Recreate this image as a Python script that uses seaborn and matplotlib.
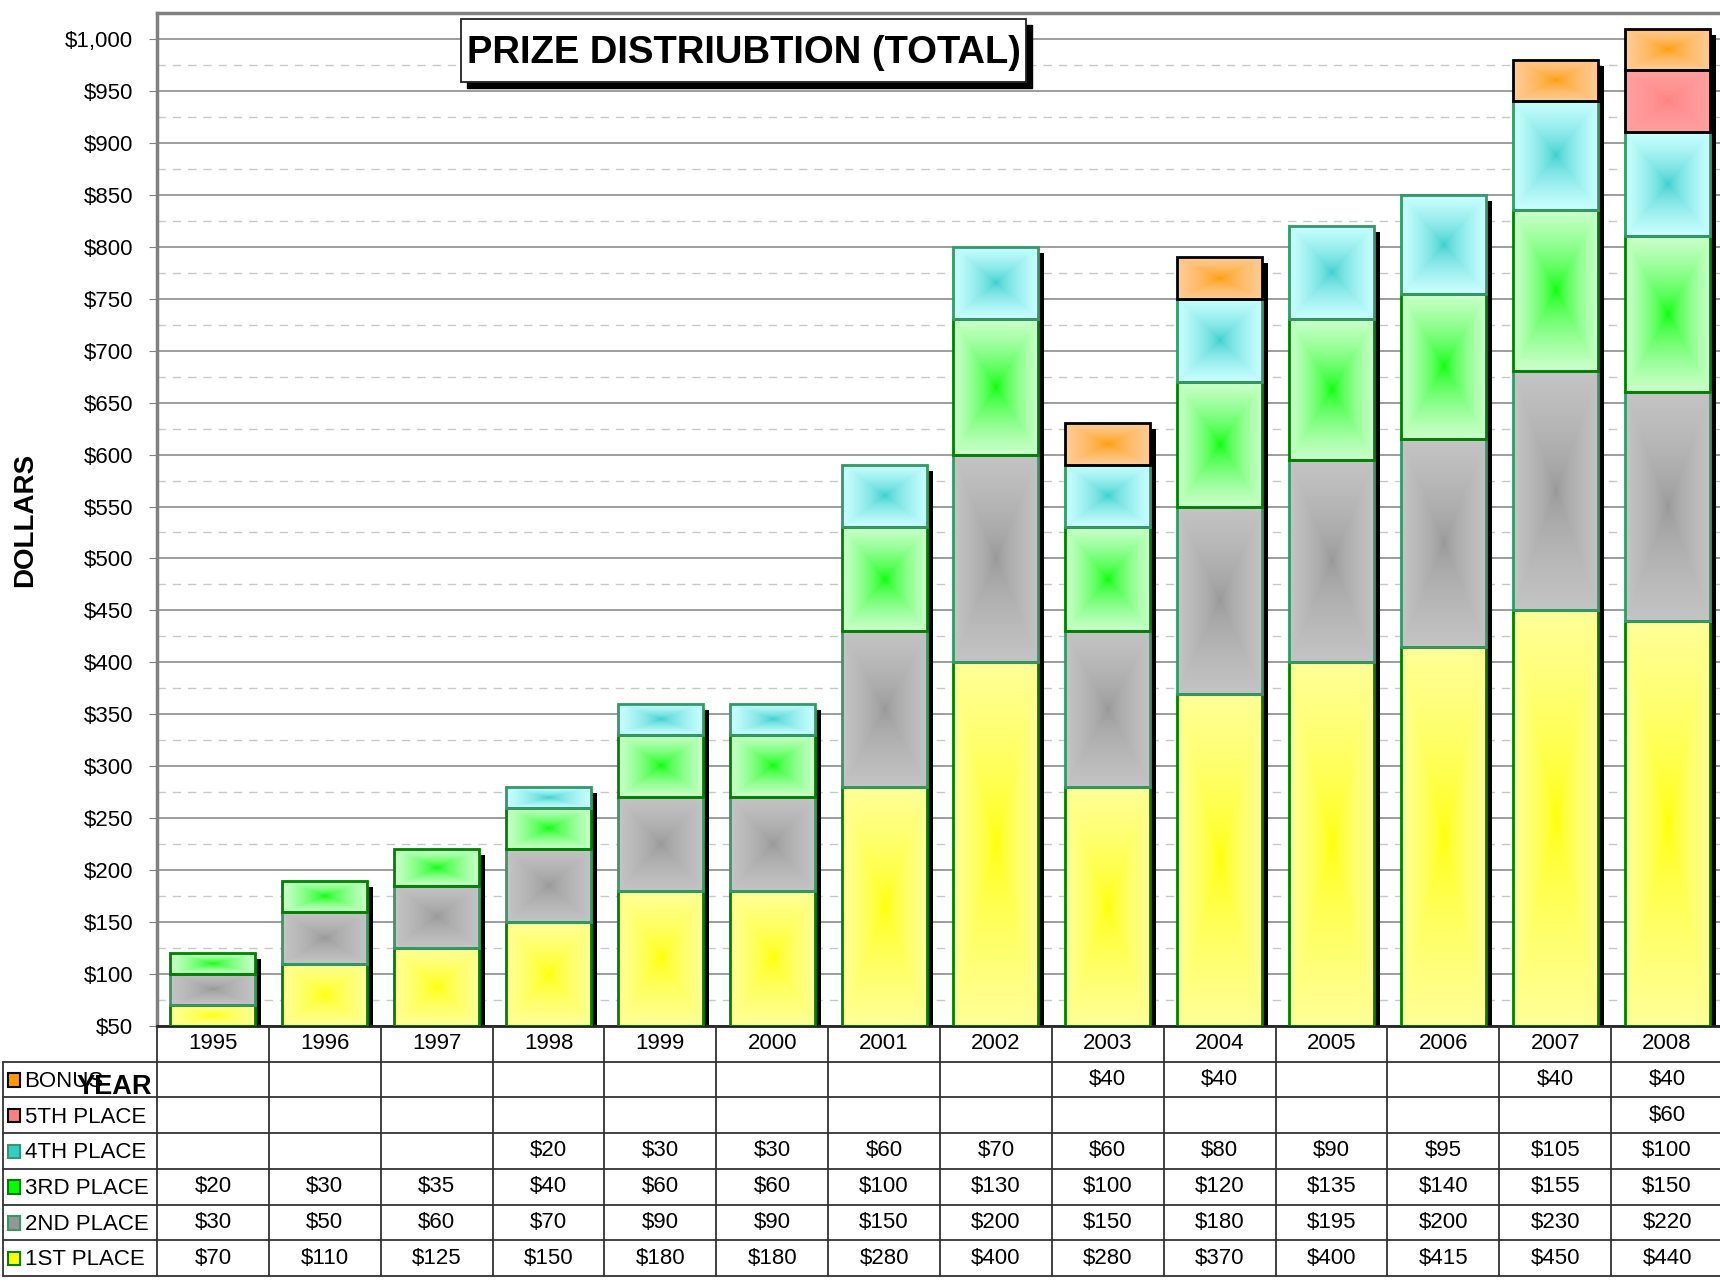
import numpy as np
import matplotlib
matplotlib.use("Agg")
import matplotlib.pyplot as plt
import matplotlib.transforms as mtransforms
import seaborn as sns
from matplotlib.patches import Rectangle
from matplotlib.colors import to_rgb
from matplotlib.ticker import MultipleLocator, FuncFormatter

# datos
years = ['1995', '1996', '1997', '1998', '1999', '2000', '2001',
         '2002', '2003', '2004', '2005', '2006', '2007', '2008']
first = [70, 110, 125, 150, 180, 180, 280, 400, 280, 370, 400, 415, 450, 440]
second = [30, 50, 60, 70, 90, 90, 150, 200, 150, 180, 195, 200, 230, 220]
third = [20, 30, 35, 40, 60, 60, 100, 130, 100, 120, 135, 140, 155, 150]
fourth = [None, None, None, 20, 30, 30, 60, 70, 60, 80, 90, 95, 105, 100]
fifth = [None] * 13 + [60]
bonus = [None] * 8 + [40, 40, None, None, 40, 40]

series_names = ['1ST PLACE', '2ND PLACE', '3RD PLACE', '4TH PLACE', '5TH PLACE', 'BONUS']
series_vals = [first, second, third, fourth, fifth, bonus]
# (centro, borde, linea)
series_colors = [('#ffff00', '#ffff99', '#008000'),
                 ('#969696', '#c4c4c4', '#339966'),
                 ('#00ff00', '#ccffcc', '#008000'),
                 ('#33cccc', '#ccffff', '#339966'),
                 ('#ff8080', '#ffa0a0', '#000000'),
                 ('#ff9900', '#ffcc99', '#000000')]

ymin, ymax = 50, 1025

sns.set_style('white')
plt.rcParams['font.family'] = ['Liberation Sans', 'DejaVu Sans']
plt.rcParams['text.color'] = 'black'
plt.rcParams['axes.labelcolor'] = 'black'
plt.rcParams['ytick.labelcolor'] = 'black'

W, H = 1720, 1282
fig = plt.figure(figsize=(W / 100, H / 100), dpi=100)
L, R = 157 / W, 1723 / W
B, T = 1 - 1026 / H, 1 - 13 / H
ax = fig.add_axes([L, B, R - L, T - B])
tax = fig.add_axes([L, 1 - 1276 / H, R - L, B - (1 - 1276 / H)])

vals = np.array([[v or 0 for v in s] for s in series_vals], dtype=float)
cum = np.cumsum(vals, axis=0)
totals = cum[-1]

# sombra negra de cada barra
sns.barplot(x=years, y=totals, color='black', saturation=1, width=0.76,
            linewidth=0, ax=ax, zorder=1)
shift = mtransforms.ScaledTranslation(0.06, -0.06, fig.dpi_scale_trans)
for p in ax.patches:
    p.set_transform(ax.transData + shift)


def pyramid(center, edge, n=200):
    u = np.abs(np.linspace(-1, 1, n))
    t = np.maximum(u[None, :], u[:, None]) ** 0.6
    c = np.array(to_rgb(center))
    e = np.array(to_rgb(edge))
    return c + (e - c) * t[..., None]


grads = [pyramid(c, e) for c, e, _ in series_colors]

for i, p in enumerate(ax.patches[:len(years)]):
    x0, w = p.get_x(), p.get_width()
    for k in range(len(series_vals)):
        if vals[k, i] <= 0:
            continue
        top = cum[k, i]
        bot = max(top - vals[k, i], ymin)
        ax.imshow(grads[k], extent=[x0, x0 + w, bot, top], aspect='auto',
                  origin='lower', interpolation='bilinear', zorder=2)
        ax.add_patch(Rectangle((x0, bot), w, top - bot, fill=False,
                               edgecolor=series_colors[k][2], lw=2, zorder=3))

ax.set_xlim(-0.5, len(years) - 0.5)
ax.set_ylim(ymin, ymax)
ax.yaxis.set_major_locator(MultipleLocator(50))
ax.yaxis.set_minor_locator(MultipleLocator(25))
ax.yaxis.set_major_formatter(FuncFormatter(lambda v, _: f'${v:,.0f}'))
ax.grid(axis='y', which='major', color='#8c8c8c', lw=1.2)
ax.grid(axis='y', which='minor', color='#c8c8c8', lw=1, ls=(0, (6, 5)))
ax.set_axisbelow(True)
ax.set_xticks([])
ax.tick_params(axis='y', which='major', left=True, length=6, color='#808080',
               labelsize=16, pad=11)
ax.tick_params(axis='y', which='minor', left=False)
for s in ['left', 'top']:
    ax.spines[s].set_color('#808080')
    ax.spines[s].set_linewidth(2.5)
ax.spines['right'].set_visible(False)
ax.spines['bottom'].set_color('#222222')
ax.spines['bottom'].set_linewidth(2)

ax.set_ylabel('DOLLARS', fontsize=20, fontweight='bold', labelpad=0)
ax.yaxis.set_label_coords(-0.0845, 0.5)
ax.yaxis.label.set_va('center')

# tabla de datos
n = len(years)
lc = -0.5 - 1.374
tax.set_xlim(-0.5, n - 0.5)
tax.set_ylim(7, 0)
tax.axis('off')
line = dict(color='#333333', lw=1.3, clip_on=False)
for r in range(1, 8):
    tax.plot([lc, n - 0.5], [r, r], **line)
for k in range(n + 1):
    tax.plot([k - 0.5, k - 0.5], [0, 7], **line)
tax.plot([lc, lc], [1, 7], **line)

for i, y in enumerate(years):
    tax.text(i, 0.5, y, ha='center', va='center', fontsize=16)

for r, k in enumerate(reversed(range(len(series_vals)))):
    row = r + 1
    c, e, edge = series_colors[k]
    tax.add_patch(Rectangle((lc + 0.04, row + 0.32), 0.105, 0.38,
                            facecolor=c, edgecolor=edge, lw=1.5, clip_on=False))
    tax.text(lc + 0.19, row + 0.55, series_names[k], ha='left', va='center',
             fontsize=16, clip_on=False)
    for i, v in enumerate(series_vals[k]):
        if v:
            tax.text(i, row + 0.5, f'${v}', ha='center', va='center', fontsize=16)

tax.text(-0.88, 1.72, 'YEAR', ha='center', va='center', fontsize=19.5,
         fontweight='bold', clip_on=False)

# titulo con caja y sombra
bx0, bx1, by0, by1 = 461, 1026, 19, 82
fig.add_artist(Rectangle(((bx0 + 6) / W, 1 - (by1 + 6) / H), (bx1 - bx0) / W,
                         (by1 - by0) / H, transform=fig.transFigure,
                         facecolor='black', edgecolor='black', zorder=5))
fig.add_artist(Rectangle((bx0 / W, 1 - by1 / H), (bx1 - bx0) / W, (by1 - by0) / H,
                         transform=fig.transFigure, facecolor='white',
                         edgecolor='#222222', lw=1.3, zorder=6))
fig.text((bx0 + bx1) / 2 / W, 1 - 63 / H, 'PRIZE DISTRIUBTION (TOTAL)',
         ha='center', va='baseline', fontsize=27.5, fontweight='bold', zorder=7)

fig.savefig('out.png', dpi=100)
